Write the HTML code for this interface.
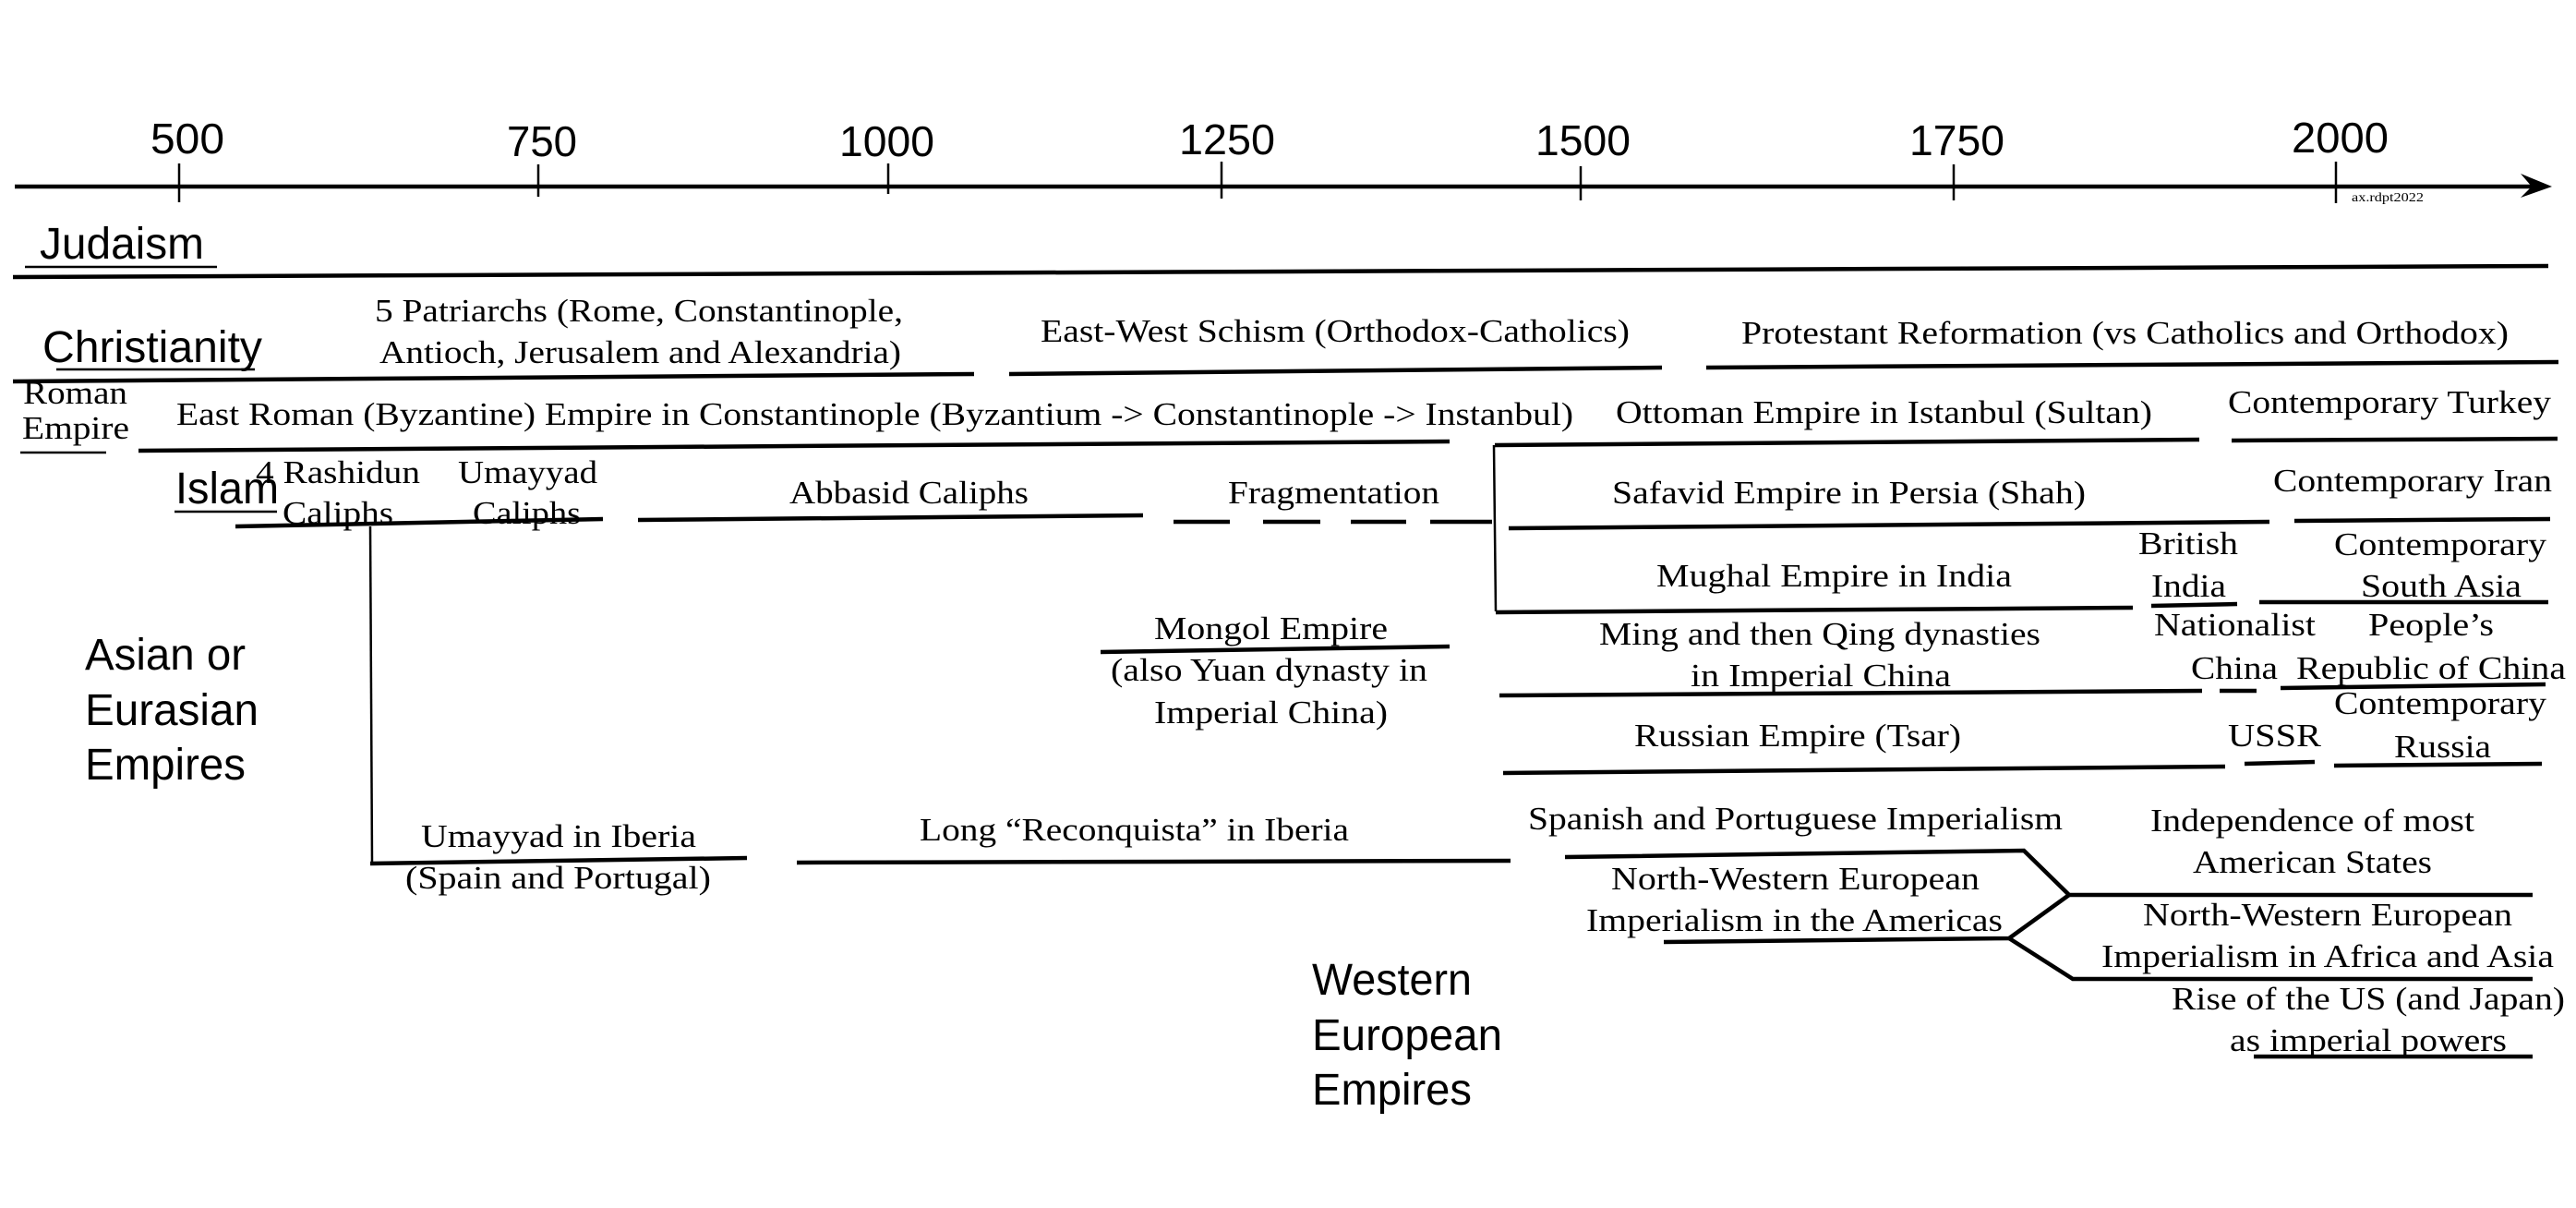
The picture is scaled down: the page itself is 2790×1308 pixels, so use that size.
<!DOCTYPE html>
<html><head><meta charset="utf-8"><style>
html,body{margin:0;padding:0;background:#fff;}
svg{display:block;}
.s{font-family:"Liberation Sans",sans-serif;font-size:48px;fill:#000;}
.r{font-family:"Liberation Serif",serif;font-size:35px;fill:#000;}
.n{font-family:"Liberation Sans",sans-serif;font-size:46px;fill:#000;}
line,polyline{stroke:#000;stroke-linecap:butt;fill:none;}
.t{stroke-width:4.5;}
.m{stroke-width:2.5;}
</style></head><body>
<svg width="2790" height="1308" viewBox="0 0 2790 1308" xmlns="http://www.w3.org/2000/svg">
<!-- axis -->
<line class="t" x1="16" y1="202" x2="2750" y2="202"/>
<polygon points="2730,188 2764,202 2730,214 2742,202" fill="#000"/>
<line class="m" x1="194" y1="177" x2="194" y2="219"/>
<line class="m" x1="583" y1="178" x2="583" y2="213"/>
<line class="m" x1="962" y1="177" x2="962" y2="210"/>
<line class="m" x1="1323" y1="175" x2="1323" y2="215"/>
<line class="m" x1="1712" y1="180" x2="1712" y2="217"/>
<line class="m" x1="2116" y1="178" x2="2116" y2="217"/>
<line class="m" x1="2530" y1="175" x2="2530" y2="220"/>
<g class="n">
<text x="163" y="166" textLength="80" lengthAdjust="spacingAndGlyphs">500</text>
<text x="549" y="169" textLength="76" lengthAdjust="spacingAndGlyphs">750</text>
<text x="909" y="169" textLength="103" lengthAdjust="spacingAndGlyphs">1000</text>
<text x="1277" y="167" textLength="104" lengthAdjust="spacingAndGlyphs">1250</text>
<text x="1663" y="168" textLength="103" lengthAdjust="spacingAndGlyphs">1500</text>
<text x="2068" y="168" textLength="103" lengthAdjust="spacingAndGlyphs">1750</text>
<text x="2482" y="165" textLength="105" lengthAdjust="spacingAndGlyphs">2000</text>
</g>
<text x="2547" y="218" style="font-family:'Liberation Serif',serif;font-size:14px" textLength="78" lengthAdjust="spacingAndGlyphs">ax.rdpt2022</text>

<!-- sans labels -->
<g class="s">
<text x="43" y="280" textLength="178" lengthAdjust="spacingAndGlyphs">Judaism</text>
<text x="46" y="392" textLength="238" lengthAdjust="spacingAndGlyphs">Christianity</text>
<text x="190" y="545" textLength="112" lengthAdjust="spacingAndGlyphs">Islam</text>
<text x="92" y="725" textLength="174" lengthAdjust="spacingAndGlyphs">Asian or</text>
<text x="92" y="785" textLength="188" lengthAdjust="spacingAndGlyphs">Eurasian</text>
<text x="92" y="844" textLength="174" lengthAdjust="spacingAndGlyphs">Empires</text>
<text x="1421" y="1077" textLength="173" lengthAdjust="spacingAndGlyphs">Western</text>
<text x="1421" y="1137" textLength="206" lengthAdjust="spacingAndGlyphs">European</text>
<text x="1421" y="1196" textLength="173" lengthAdjust="spacingAndGlyphs">Empires</text>
</g>
<line class="m" x1="27" y1="289" x2="235" y2="289"/>
<line class="m" x1="61" y1="400" x2="276" y2="400"/>
<line class="m" x1="189" y1="554" x2="300" y2="554"/>

<!-- row lines -->
<line class="t" x1="14" y1="300" x2="2760" y2="288"/>
<line class="t" x1="14" y1="413" x2="1055" y2="405"/>
<line class="t" x1="1093" y1="405" x2="1800" y2="398"/>
<line class="t" x1="1848" y1="398" x2="2771" y2="392"/>
<line class="m" x1="22" y1="490" x2="115" y2="490"/>
<line class="t" x1="150" y1="488" x2="1570" y2="478"/>
<line class="t" x1="1619" y1="482" x2="2382" y2="476"/>
<line class="t" x1="2417" y1="477" x2="2770" y2="475"/>
<line class="m" x1="1618" y1="482" x2="1620" y2="662"/>
<line class="t" x1="255" y1="570" x2="653" y2="562"/>
<line class="m" x1="401" y1="570" x2="403" y2="935"/>
<line class="t" x1="691" y1="563" x2="1238" y2="558"/>
<line class="t" x1="1271" y1="565" x2="1332" y2="565"/>
<line class="t" x1="1368" y1="565" x2="1430" y2="565"/>
<line class="t" x1="1463" y1="565" x2="1523" y2="565"/>
<line class="t" x1="1549" y1="565" x2="1616" y2="565"/>
<line class="t" x1="1634" y1="572" x2="2458" y2="565"/>
<line class="t" x1="2485" y1="564" x2="2762" y2="562"/>
<line class="t" x1="1620" y1="663" x2="2310" y2="658"/>
<line class="t" x1="2330" y1="656" x2="2423" y2="654"/>
<line class="t" x1="2447" y1="652" x2="2760" y2="652"/>
<line class="t" x1="1192" y1="706" x2="1570" y2="700"/>
<line class="t" x1="1624" y1="753" x2="2385" y2="748"/>
<line class="t" x1="2404" y1="748" x2="2444" y2="748"/>
<line class="t" x1="2470" y1="745" x2="2757" y2="741"/>
<line class="t" x1="1628" y1="837" x2="2410" y2="830"/>
<line class="t" x1="2431" y1="827" x2="2507" y2="825"/>
<line class="t" x1="2528" y1="829" x2="2753" y2="827"/>
<line class="t" x1="401" y1="935" x2="809" y2="929"/>
<line class="t" x1="863" y1="934" x2="1636" y2="932"/>
<polyline class="t" points="1695,928 2192,921 2241,969 2743,969"/>
<polyline class="t" points="1802,1020 2176,1016 2241,969"/>
<polyline class="t" points="2176,1016 2245,1060 2743,1060"/>
<line class="t" x1="2441" y1="1144" x2="2743" y2="1144"/>

<!-- serif labels -->
<g class="r">
<text x="406" y="348" textLength="572" lengthAdjust="spacingAndGlyphs">5 Patriarchs (Rome, Constantinople,</text>
<text x="411" y="393" textLength="565" lengthAdjust="spacingAndGlyphs">Antioch, Jerusalem and Alexandria)</text>
<text x="1127" y="370" textLength="638" lengthAdjust="spacingAndGlyphs">East-West Schism (Orthodox-Catholics)</text>
<text x="1886" y="372" textLength="831" lengthAdjust="spacingAndGlyphs">Protestant Reformation (vs Catholics and Orthodox)</text>
<text x="25" y="437" textLength="113" lengthAdjust="spacingAndGlyphs">Roman</text>
<text x="24" y="475" textLength="116" lengthAdjust="spacingAndGlyphs">Empire</text>
<text x="191" y="460" textLength="1513" lengthAdjust="spacingAndGlyphs">East Roman (Byzantine) Empire in Constantinople (Byzantium -&gt; Constantinople -&gt; Instanbul)</text>
<text x="1750" y="458" textLength="581" lengthAdjust="spacingAndGlyphs">Ottoman Empire in Istanbul (Sultan)</text>
<text x="2413" y="447" textLength="350" lengthAdjust="spacingAndGlyphs">Contemporary Turkey</text>
<text x="277" y="523" textLength="178" lengthAdjust="spacingAndGlyphs">4 Rashidun</text>
<text x="306" y="567" textLength="120" lengthAdjust="spacingAndGlyphs">Caliphs</text>
<text x="496" y="523" textLength="151" lengthAdjust="spacingAndGlyphs">Umayyad</text>
<text x="512" y="567" textLength="117" lengthAdjust="spacingAndGlyphs">Caliphs</text>
<text x="855" y="545" textLength="259" lengthAdjust="spacingAndGlyphs">Abbasid Caliphs</text>
<text x="1330" y="545" textLength="229" lengthAdjust="spacingAndGlyphs">Fragmentation</text>
<text x="1746" y="545" textLength="513" lengthAdjust="spacingAndGlyphs">Safavid Empire in Persia (Shah)</text>
<text x="2462" y="532" textLength="302" lengthAdjust="spacingAndGlyphs">Contemporary Iran</text>
<text x="1794" y="635" textLength="385" lengthAdjust="spacingAndGlyphs">Mughal Empire in India</text>
<text x="2316" y="600" textLength="108" lengthAdjust="spacingAndGlyphs">British</text>
<text x="2330" y="646" textLength="81" lengthAdjust="spacingAndGlyphs">India</text>
<text x="2528" y="601" textLength="230" lengthAdjust="spacingAndGlyphs">Contemporary</text>
<text x="2557" y="646" textLength="174" lengthAdjust="spacingAndGlyphs">South Asia</text>
<text x="1250" y="692" textLength="253" lengthAdjust="spacingAndGlyphs">Mongol Empire</text>
<text x="1203" y="737" textLength="343" lengthAdjust="spacingAndGlyphs">(also Yuan dynasty in</text>
<text x="1250" y="783" textLength="253" lengthAdjust="spacingAndGlyphs">Imperial China)</text>
<text x="1732" y="698" textLength="478" lengthAdjust="spacingAndGlyphs">Ming and then Qing dynasties</text>
<text x="1831" y="743" textLength="282" lengthAdjust="spacingAndGlyphs">in Imperial China</text>
<text x="2333" y="688" textLength="175" lengthAdjust="spacingAndGlyphs">Nationalist</text>
<text x="2373" y="735" textLength="94" lengthAdjust="spacingAndGlyphs">China</text>
<text x="2565" y="688" textLength="136" lengthAdjust="spacingAndGlyphs">People’s</text>
<text x="2487" y="735" textLength="292" lengthAdjust="spacingAndGlyphs">Republic of China</text>
<text x="1770" y="808" textLength="354" lengthAdjust="spacingAndGlyphs">Russian Empire (Tsar)</text>
<text x="2413" y="808" textLength="101" lengthAdjust="spacingAndGlyphs">USSR</text>
<text x="2528" y="773" textLength="230" lengthAdjust="spacingAndGlyphs">Contemporary</text>
<text x="2593" y="820" textLength="105" lengthAdjust="spacingAndGlyphs">Russia</text>
<text x="456" y="917" textLength="298" lengthAdjust="spacingAndGlyphs">Umayyad in Iberia</text>
<text x="439" y="962" textLength="331" lengthAdjust="spacingAndGlyphs">(Spain and Portugal)</text>
<text x="996" y="910" textLength="465" lengthAdjust="spacingAndGlyphs">Long “Reconquista” in Iberia</text>
<text x="1655" y="898" textLength="579" lengthAdjust="spacingAndGlyphs">Spanish and Portuguese Imperialism</text>
<text x="1745" y="963" textLength="399" lengthAdjust="spacingAndGlyphs">North-Western European</text>
<text x="1718" y="1008" textLength="451" lengthAdjust="spacingAndGlyphs">Imperialism in the Americas</text>
<text x="2329" y="900" textLength="351" lengthAdjust="spacingAndGlyphs">Independence of most</text>
<text x="2375" y="945" textLength="259" lengthAdjust="spacingAndGlyphs">American States</text>
<text x="2321" y="1002" textLength="400" lengthAdjust="spacingAndGlyphs">North-Western European</text>
<text x="2276" y="1047" textLength="490" lengthAdjust="spacingAndGlyphs">Imperialism in Africa and Asia</text>
<text x="2352" y="1093" textLength="426" lengthAdjust="spacingAndGlyphs">Rise of the US (and Japan)</text>
<text x="2415" y="1138" textLength="300" lengthAdjust="spacingAndGlyphs">as imperial powers</text>
</g>
</svg>
</body></html>
